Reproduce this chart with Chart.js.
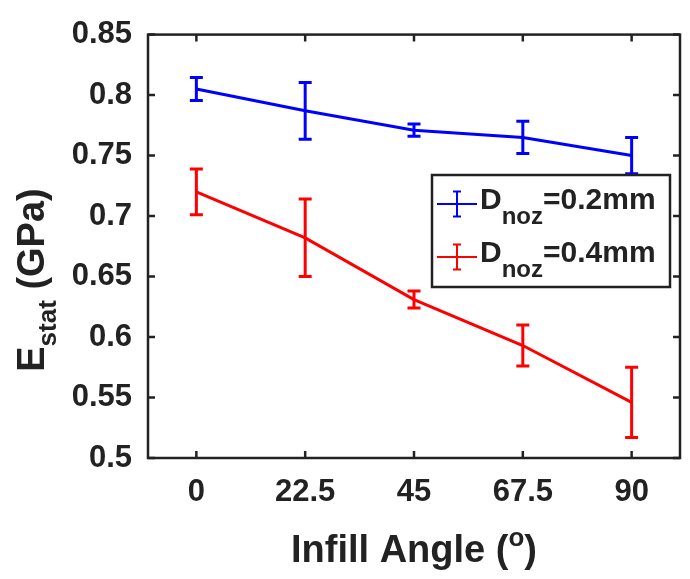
<!DOCTYPE html>
<html>
<head>
<meta charset="utf-8">
<script src="https://cdn.jsdelivr.net/npm/chart.js@4.4.1/dist/chart.umd.min.js"></script>
<style>
  html, body { margin: 0; padding: 0; background: #fff; }
  #wrap { width: 690px; height: 579px; position: relative; }
</style>
</head>
<body>
<div id="wrap"><canvas id="chart" width="690" height="579"></canvas></div>
<script>
/* ===============================
   DATA
================================ */
const angles = [0, 22.5, 45, 67.5, 90];
const xTicks = [0, 22.5, 45, 67.5, 90];
const yTicks = [0.5, 0.55, 0.6, 0.65, 0.7, 0.75, 0.8, 0.85];

const e02 = [0.805, 0.787, 0.771, 0.765, 0.750];
const err02 = [0.0095, 0.0235, 0.005, 0.0133, 0.015];
const e04 = [0.720, 0.682, 0.631, 0.593, 0.546];
const err04 = [0.019, 0.032, 0.007, 0.017, 0.029];

const seriesNames = ["0.2mm", "0.4mm"];

/* ===============================
   STYLE
================================ */
const INK = "#222";
const FONT = "'Liberation Sans', Arial, sans-serif";
const BLUE = "#0000ff";
const RED = "#ff0000";

function toPoints(xs, ys, errs) {
  return xs.map((x, i) => ({ x: x, y: ys[i], err: errs[i] }));
}

// draws a run of [text, size, dy] pieces, left to right
function drawRun(ctx, pieces, x, y) {
  pieces.forEach(([txt, size, dy]) => {
    ctx.font = "bold " + size + "px " + FONT;
    ctx.fillText(txt, x, y + dy);
    x += ctx.measureText(txt).width;
  });
}

function runWidth(ctx, pieces) {
  let w = 0;
  pieces.forEach(([txt, size]) => {
    ctx.font = "bold " + size + "px " + FONT;
    w += ctx.measureText(txt).width;
  });
  return w;
}

/* ===============================
   PLUGINS
================================ */
const errorBars = {
  id: "errorBars",
  beforeDatasetsDraw(chart) {
    const { ctx, scales } = chart;
    chart.data.datasets.forEach((ds) => {
      ctx.save();
      ctx.strokeStyle = ds.borderColor;
      ctx.lineWidth = 3;
      ds.data.forEach((p) => {
        const x = scales.x.getPixelForValue(p.x);
        const top = scales.y.getPixelForValue(p.y + p.err);
        const bot = scales.y.getPixelForValue(p.y - p.err);
        ctx.beginPath();
        ctx.moveTo(x, top);
        ctx.lineTo(x, bot);
        ctx.moveTo(x - 6.5, top);
        ctx.lineTo(x + 6.5, top);
        ctx.moveTo(x - 6.5, bot);
        ctx.lineTo(x + 6.5, bot);
        ctx.stroke();
      });
      ctx.restore();
    });
  },
};

const frame = {
  id: "frame",
  afterDraw(chart) {
    const { ctx, chartArea: a, scales } = chart;
    ctx.save();
    ctx.strokeStyle = INK;
    ctx.lineWidth = 2.5;
    ctx.strokeRect(a.left, a.top, a.right - a.left, a.bottom - a.top);

    // inward ticks on all four sides
    ctx.lineWidth = 2.5;
    const len = 7;
    ctx.beginPath();
    xTicks.forEach((v) => {
      const x = scales.x.getPixelForValue(v);
      ctx.moveTo(x, a.bottom);
      ctx.lineTo(x, a.bottom - len);
      ctx.moveTo(x, a.top);
      ctx.lineTo(x, a.top + len);
    });
    yTicks.forEach((v) => {
      const y = scales.y.getPixelForValue(v);
      ctx.moveTo(a.left, y);
      ctx.lineTo(a.left + len, y);
      ctx.moveTo(a.right, y);
      ctx.lineTo(a.right - len, y);
    });
    ctx.stroke();

    // x title
    ctx.fillStyle = INK;
    ctx.textBaseline = "alphabetic";
    const xTitle = [["Infill Angle (", 38, 0], ["o", 26, -16], [")", 38, 0]];
    const cx = (a.left + a.right) / 2;
    drawRun(ctx, xTitle, cx - runWidth(ctx, xTitle) / 2, 562);

    // y title (rotated)
    ctx.save();
    ctx.translate(44, 280);
    ctx.rotate(-Math.PI / 2);
    const yTitle = [["E", 38, 0], ["stat", 26, 12], [" (GPa)", 38, 0]];
    drawRun(ctx, yTitle, -runWidth(ctx, yTitle) / 2, 0);
    ctx.restore();

    // legend
    const lx = 432, ly = 175, lw = 238, lh = 112;
    ctx.fillStyle = "#fff";
    ctx.fillRect(lx, ly, lw, lh);
    ctx.strokeStyle = INK;
    ctx.lineWidth = 2.5;
    ctx.strokeRect(lx, ly, lw, lh);
    const colors = [BLUE, RED];
    seriesNames.forEach((name, i) => {
      const rowY = ly + 29 + i * 53;
      ctx.strokeStyle = colors[i];
      ctx.lineWidth = 2;
      ctx.beginPath();
      ctx.moveTo(lx + 5, rowY);
      ctx.lineTo(lx + 45, rowY);
      ctx.moveTo(lx + 25, rowY - 12.5);
      ctx.lineTo(lx + 25, rowY + 12.5);
      ctx.moveTo(lx + 21, rowY - 12.5);
      ctx.lineTo(lx + 29, rowY - 12.5);
      ctx.moveTo(lx + 21, rowY + 12.5);
      ctx.lineTo(lx + 29, rowY + 12.5);
      ctx.stroke();
      ctx.fillStyle = INK;
      drawRun(ctx, [["D", 30, 0], ["noz", 24, 15], ["=" + name, 30, 0]], lx + 48, rowY + 5);
    });
    ctx.restore();
  },
};

/* ===============================
   CHART
================================ */
new Chart(document.getElementById("chart"), {
  type: "line",
  data: {
    datasets: [
      {
        label: "Dnoz=0.2mm",
        data: toPoints(angles, e02, err02),
        borderColor: BLUE,
        borderWidth: 3,
        pointRadius: 0,
        fill: false,
      },
      {
        label: "Dnoz=0.4mm",
        data: toPoints(angles, e04, err04),
        borderColor: RED,
        borderWidth: 3,
        pointRadius: 0,
        fill: false,
      },
    ],
  },
  options: {
    responsive: false,
    animation: false,
    layout: { padding: { top: 20, right: 10, left: 0, bottom: 0 } },
    plugins: {
      legend: { display: false },
      tooltip: { enabled: false },
    },
    scales: {
      x: {
        type: "linear",
        min: -10,
        max: 100,
        afterBuildTicks: (s) => { s.ticks = xTicks.map((v) => ({ value: v })); },
        afterFit: (s) => { s.height = 121; },
        grid: { display: false, drawTicks: false },
        border: { display: false },
        ticks: {
          padding: 16,
          color: INK,
          font: { family: FONT, size: 31, weight: "bold" },
          callback: (v) => String(v),
          maxRotation: 0,
        },
      },
      y: {
        type: "linear",
        min: 0.5,
        max: 0.85,
        afterBuildTicks: (s) => { s.ticks = yTicks.map((v) => ({ value: v })); },
        afterFit: (s) => { s.width = 148; },
        grid: { display: false, drawTicks: false },
        border: { display: false },
        ticks: {
          padding: 16,
          color: INK,
          font: { family: FONT, size: 31, weight: "bold" },
          callback: (v) => String(parseFloat(v.toFixed(2))),
        },
      },
    },
  },
  plugins: [errorBars, frame],
});
</script>
</body>
</html>
